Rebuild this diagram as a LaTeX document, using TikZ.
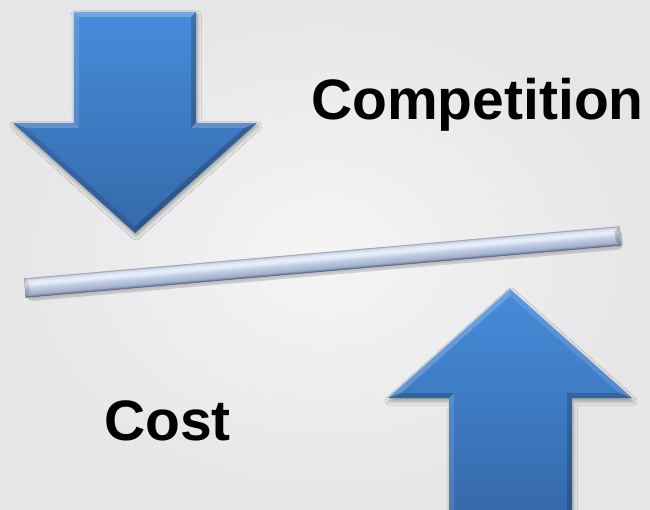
\documentclass[tikz,border=0pt]{standalone}
\usepackage{fontspec}
\setmainfont{Liberation Sans}
\usetikzlibrary{shadows.blur}

\definecolor{bgIn}{HTML}{F5F5F5}
\definecolor{bgOut}{HTML}{E6E6E6}
\definecolor{arrTop}{HTML}{468CDA}
\definecolor{arrBot}{HTML}{3569AA}

\tikzset{
  arrowbody/.style={top color=arrTop, bottom color=arrBot,
    blur shadow={shadow xshift=1pt, shadow yshift=-3pt,
                 shadow blur radius=4pt, shadow opacity=35}},
  lightface/.style={fill=white, fill opacity=#1},
  lightface/.default=0.2,
  darkface/.style={fill=black, fill opacity=#1},
  darkface/.default=0.15,
  lbl/.style={font=\fontsize{57}{68}\selectfont\bfseries, inner sep=0pt, text=black}
}

\begin{document}
\begin{tikzpicture}[x=1pt,y=-1pt]
\useasboundingbox (0,0) rectangle (650,510);
% soft grey backdrop
\shade[inner color=bgIn, outer color=bgOut] (0,0) rectangle (650,510);

% ---- downward arrow ----
\path[arrowbody] (74,12) -- (196,12) -- (196,123) -- (257,123) -- (135,233)
  -- (13,123) -- (74,123) -- cycle;
\fill[lightface=0.25] (74,12) -- (196,12) -- (191,17) -- (79,17) -- cycle;
\fill[lightface=0.12] (74,12) -- (79,17) -- (79,128) -- (74,123) -- cycle;
\fill[darkface=0.18] (196,12) -- (196,123) -- (191,128) -- (191,17) -- cycle;
\fill[lightface=0.18] (13,123) -- (74,123) -- (79,128) -- (26,128) -- cycle;
\fill[lightface=0.18] (196,123) -- (257,123) -- (244,128) -- (191,128) -- cycle;
\fill[darkface=0.12] (13,123) -- (26,128) -- (135,226.3) -- (135,233) -- cycle;
\fill[darkface=0.2] (257,123) -- (135,233) -- (135,226.3) -- (244,128) -- cycle;

% ---- upward arrow ----
\path[arrowbody] (510,289) -- (632,398) -- (572,398) -- (572,515) -- (449,515)
  -- (449,398) -- (388,398) -- cycle;
\fill[lightface=0.2] (388,398) -- (510,289) -- (510,295.7) -- (401,393) -- cycle;
\fill[lightface=0.12] (510,289) -- (632,398) -- (619,393) -- (510,295.7) -- cycle;
\fill[darkface=0.18] (388,398) -- (401,393) -- (454,393) -- (449,398) -- cycle;
\fill[darkface=0.18] (567,393) -- (619,393) -- (632,398) -- (572,398) -- cycle;
\fill[lightface=0.12] (449,398) -- (454,393) -- (454,515) -- (449,515) -- cycle;
\fill[darkface=0.18] (572,398) -- (572,515) -- (567,515) -- (567,393) -- cycle;

% ---- tilted beam ----
\begin{scope}[shift={(322.5,262)}, rotate=5]
  % soft shadow under the beam
  \foreach \o in {0.05,0.05,0.05} {
    \fill[black, opacity=\o, rounded corners=5pt] (-297,-6) rectangle (301,13.5);
  }
  \fill[black, opacity=0.06, rounded corners=3pt] (-297.5,-7) rectangle (300,11.5);
  % cylindrical body: each band runs to the bottom edge, so the bands
  % overlap and leave no seams between them
  \foreach \k/\c in {0/A9B5CB, 1/CBD5E6, 2/D8E1F0, 3/E0E8F5, 4/E6EDF8, 5/E9EFF9,
      6/E5ECF7, 7/DDE5F3, 8/D3DDEE, 9/CAD5E9, 10/C2CEE4, 11/BBC8E0, 12/B6C3DC,
      13/B1BFD9, 14/ADBAD5, 15/A7B5D1, 16/9FADCA, 17/8A98B5, 18/6C7894} {
    \definecolor{band}{HTML}{\c}
    \fill[band] (-298.6,-9.5+\k) rectangle (298.6,9.5);
  }
  % bevelled ends
  \fill[black, opacity=0.10] (-298.6,-9.5) -- (-294,-5) -- (-294,5) -- (-298.6,9.5) -- cycle;
  \fill[black, opacity=0.18] (298.6,-9.5) -- (294,-5) -- (294,5) -- (298.6,9.5) -- cycle;
  \draw[black, opacity=0.2, line width=0.5pt] (-298.6,-9.5) rectangle (298.6,9.5);
\end{scope}

% ---- labels ----
\node[lbl, anchor=base] (comp) at (477.5,120) {Competition};
\node[lbl, anchor=base] (cost) at (167.5,440) {Cost};
\end{tikzpicture}
\end{document}
